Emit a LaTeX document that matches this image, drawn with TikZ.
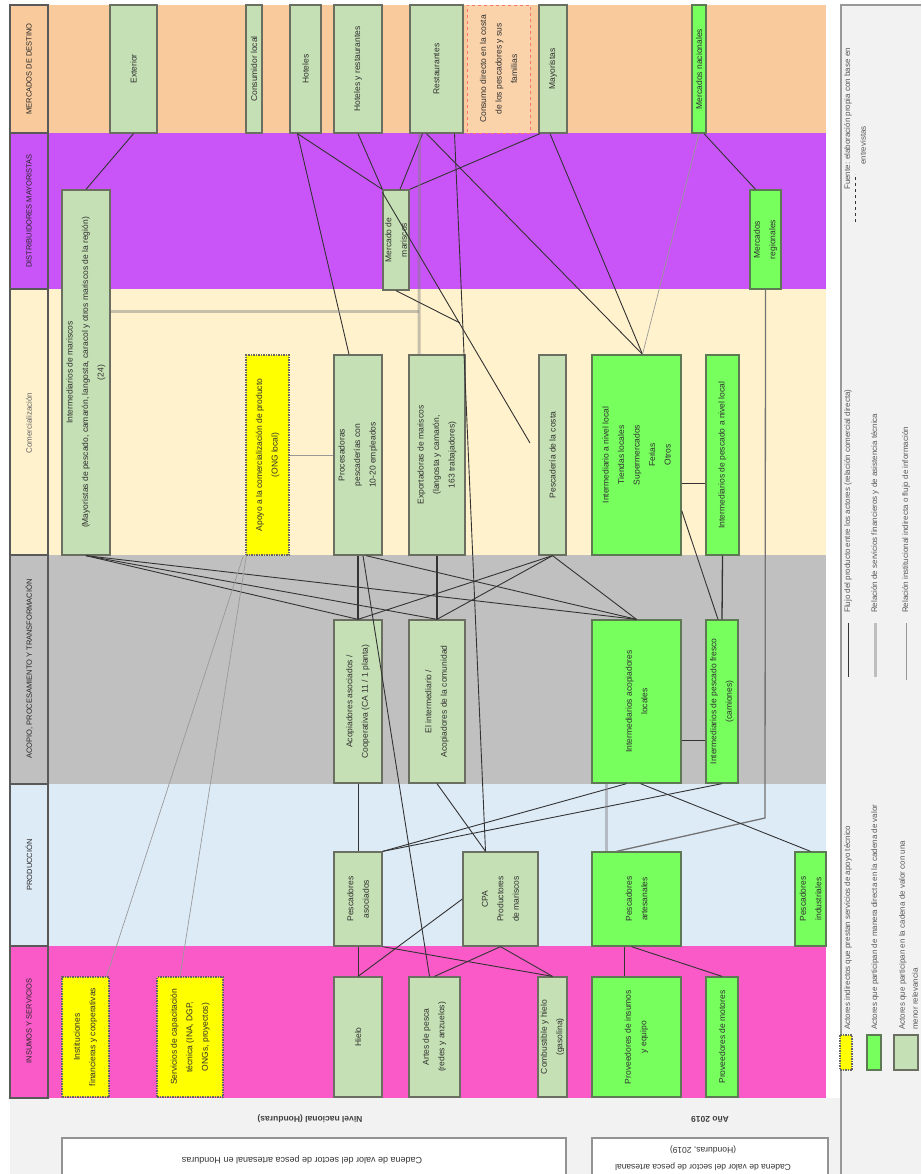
\documentclass[tikz,border=0pt]{standalone}
\usepackage{fontspec}
\setmainfont{Liberation Sans}
\usetikzlibrary{fit,calc}
\definecolor{cO}{HTML}{F9CB9C}
\definecolor{cP}{HTML}{C955F8}
\definecolor{cC}{HTML}{FFF2CC}
\definecolor{cG}{HTML}{C0C0C0}
\definecolor{cB}{HTML}{DDEBF7}
\definecolor{cK}{HTML}{F95AC8}
\definecolor{lgreen}{HTML}{C5E0B4}
\definecolor{bgreen}{HTML}{77FF5E}
\definecolor{yel}{HTML}{FFFF00}
\definecolor{boxc}{HTML}{6A6F62}
\definecolor{bgline}{HTML}{5E7A55}
\definecolor{txtc}{HTML}{303030}
\definecolor{paper}{HTML}{F2F2F2}
\newcommand\actor[7]{\node[#2, fit={(#3,#4) (#5,#6)}] (#1) {};\node[txt] at (#1.center) {#7};}
\begin{document}
\begin{tikzpicture}[x=1pt,y=-1pt,
  box/.style={draw=boxc, line width=1.3pt, inner sep=0pt},
  lg/.style={box, fill=lgreen},
  bg/.style={box, fill=bgreen, draw=bgline},
  yl/.style={box, fill=yel, draw=black!60, dash pattern=on 1.5pt off 1pt},
  txt/.style={rotate=90, align=center, font=\fontsize{8.5}{15.5}\selectfont, inner sep=0pt, text=txtc},
  rlab/.style={rotate=90, font=\fontsize{7.5}{9}\selectfont, inner sep=0pt, text=black!85},
  ltxt/.style={rotate=90, font=\fontsize{8}{13}\selectfont, inner sep=0pt, text=black!65},
  cell/.style={draw=black!65, line width=1.5pt},
  dk/.style={draw=black!80, line width=0.9pt},
  tk/.style={draw=gray, line width=3pt, opacity=0.45},
  lt/.style={draw=black!40, line width=0.7pt},
  md/.style={draw=black!55, line width=1.3pt},
  frame/.style={draw=gray!85, line width=1.5pt, fill=white}
]
\useasboundingbox (0,0) rectangle (921,1174);
\clip (0,0) rectangle (921,1174);
\fill[white] (0,0) rectangle (921,1174);
\fill[paper] (10,1098) rectangle (841,1174);
\fill[paper] (841,5) rectangle (921,1174);
% bands
\fill[cO] (10,5) rectangle (826,133);
\fill[cP] (10,133) rectangle (826,289);
\fill[cC] (10,289) rectangle (826,555);
\fill[cG] (10,555) rectangle (826,784);
\fill[cB] (10,784) rectangle (826,946);
\fill[cK] (10,946) rectangle (826,1098);
\draw[cell] (10,5) rectangle (48,133);
\draw[cell] (10,133) rectangle (48,289);
\draw[cell] (10,289) rectangle (48,555);
\draw[cell] (10,555) rectangle (48,784);
\draw[cell] (10,784) rectangle (48,946);
\draw[cell] (10,946) rectangle (48,1098);
\node[rlab] at (29,69) {MERCADOS DE DESTINO};
\node[rlab] at (29,211) {DISTRIBUIDORES MAYORISTAS};
\node[rlab, text=black!60] at (29,423) {\fontsize{8}{9}\selectfont Comercialización};
\node[rlab] at (29,669) {ACOPIO, PROCESAMIENTO Y TRANSFORMACIÓN};
\node[rlab] at (29,865) {PRODUCCIÓN};
\node[rlab] at (29,1021) {INSUMOS Y SERVICIOS};
% orange row
\actor{O1}{lg}{110}{5}{157}{133}{Exterior}
\actor{O2}{lg}{246}{5}{262}{133}{Consumidor local}
\actor{O3}{lg}{290}{5}{321}{133}{Hoteles}
\actor{O4}{lg}{334}{5}{382}{133}{Hoteles y restaurantes}
\actor{O5}{lg}{410}{5}{463}{133}{Restaurantes}
\node[draw=red!55, dashed, line width=0.8pt, fill=cO!85!white, inner sep=0pt, fit={(467,5) (530,133)}] (O6) {};
\node[txt] at (O6.center) {Consumo directo en la costa\\de los pescadores y sus\\familias};
\actor{O7}{lg}{539}{5}{567}{133}{Mayoristas}
\actor{O8}{bg}{692}{5}{706}{133}{Mercados nacionales}
% purple row
\actor{P1}{lg}{62}{190}{110}{555}{Intermediarios de mariscos\\(Mayoristas de pescado, camarón, langosta, caracol y otros mariscos de la región)\\(24)}
\actor{P2}{lg}{383}{190}{409}{290}{Mercado de\\mariscos}
\actor{P3}{bg}{750}{190}{781}{289}{Mercados\\regionales}
% cream row
\actor{C1}{yl}{246}{355}{289}{555}{Apoyo a la comercialización de producto\\(ONG local)}
\actor{CP}{lg}{334}{355}{382}{555}{Procesadoras\\pescaderías con\\10-20 empleados}
\actor{CE}{lg}{409}{355}{465}{555}{Exportadoras de mariscos\\(langosta y camarón,\\163 trabajadores)}
\actor{C4}{lg}{539}{355}{566}{555}{Pescadería de la costa}
\actor{C5}{bg}{592}{355}{681}{555}{Intermediario a nivel local\\Tiendas locales\\Supermercados\\Ferias\\Otros}
\actor{C6}{bg}{706}{355}{739}{555}{Intermediarios de pescado a nivel local}
% grey row
\actor{G1}{lg}{334}{620}{382}{783}{Acopiadores asociados /\\Cooperativa (CA 11 / 1 planta)}
\actor{G2}{lg}{409}{620}{465}{783}{El intermediario /\\Acopiadores de la comunidad}
\actor{G3}{bg}{592}{620}{681}{783}{Intermediarios acopiadores\\locales}
\actor{G4}{bg}{706}{620}{738}{783}{Intermediarios de pescado fresco\\(camiones)}
% blue row
\actor{B1}{lg}{334}{852}{382}{946}{Pescadores\\asociados}
\actor{B2}{lg}{463}{852}{538}{946}{CPA\\Productores\\de mariscos}
\actor{B3}{bg}{592}{852}{681}{946}{Pescadores\\artesanales}
\actor{B4}{bg}{795}{852}{826}{946}{Pescadores\\industriales}
% pink row
\actor{Y1}{yl}{62}{977}{109}{1097}{Instituciones\\financieras y cooperativas}
\actor{Y2}{yl}{157}{977}{223}{1097}{Servicios de capacitación\\técnica (INA, DGP,\\ONGs, proyectos)}
\actor{K1}{lg}{334}{977}{382}{1097}{Hielo}
\actor{K2}{lg}{409}{977}{460}{1097}{Artes de pesca\\(redes y anzuelos)}
\actor{K3}{lg}{538}{977}{567}{1097}{Combustible y hielo\\(gasolina)}
\actor{K4}{bg}{592}{977}{681}{1097}{Proveedores de insumos\\y equipo}
\actor{K5}{bg}{706}{977}{738}{1097}{Proveedores de motores}
% coordinates
\coordinate (k1) at (765,818);
\coordinate (t1) at (419,311);
\coordinate (fe) at (530,443);
\coordinate (la) at (460,323);
% connectors: markets / distribution
\draw[dk] (O1.south) -- (P1.north);
\draw[dk] ($(O3.south)+(-8,0)$) -- (P2.north west);
\draw[dk] ($(O3.south)+(-8,0)$) -- ($(CP.north)+(-9,0)$);
\draw[dk] (O4.south) -- (P2.north west);
\draw[dk] ($(O5.south)+(-14,0)$) -- ($(P2.north)+(4,0)$);
\draw[dk] ($(O7.south)+(-13,0)$) -- (P2.north east);
\draw[dk] ($(O5.south)+(-10,0)$) -- ($(C5.north)+(6,0)$);
\draw[dk] ($(O7.south)+(-3,0)$) -- ($(C5.north)+(6,0)$);
\draw[lt] (O8.south) -- ($(C5.north)+(6,0)$);
\draw[dk] ($(O8.south)+(5,0)$) -- ($(P3.north)+(-10,0)$);
\draw[md] (P3.south) -- (k1) -- ($(B3.north)+(-20,0)$);
\draw[tk] ($(O5.south)+(-17,0)$) -- ($(CE.north)+(-18,0)$);
\draw[tk] (t1) -- (t1 -| P1.east);
\draw[dk] ($(P2.north west)+(0,3)$) -- (fe);
\draw[dk] (P2.south) -- (la);
\draw[dk] ($(O5.south)+(18,0)$) -- ($(B2.north)+(-15,0)$);
% commercialization / processing
\draw[dk, line width=1.3pt] (CP.south) -- (G1.north);
\draw[dk] ($(CP.south)+(5,0)$) -- ($(K2.north)+(-5,0)$);
\draw[dk, line width=1.3pt] (CE.south) -- (G2.north);
\draw[dk] (C4.south) -- (G1.north);
\draw[dk] (C4.south) -- (G2.north);
\draw[dk] (C4.south) -- (G3.north);
\draw[dk] (P1.south) -- (G1.north);
\draw[dk] (P1.south) -- (G2.north);
\draw[dk] (P1.south) -- (G3.north);
\draw[dk] ($(CP.south)+(8,0)$) -- (G3.north);
\draw[dk] ($(C5.south east)+(0,-45)$) -- ($(G4.north)+(-4,0)$);
\draw[dk] ($(C5.south east)+(0,-72)$) -- ($(C6.south west)+(0,-72)$);
\draw[dk, line width=1.3pt] (C6.south) -- (G4.north);
\draw[dk] ($(G3.south east)+(0,-43)$) -- ($(G4.south west)+(0,-43)$);
% production
\draw[dk] (G1.south) -- (B1.north);
\draw[dk] (G2.south) -- ($(B2.north)+(-15,0)$);
\draw[dk] (B1.north east) -- ($(G3.south)+(-10,0)$);
\draw[dk] (B1.north east) -- (G4.south);
\draw[dk] ($(G3.south)+(4,0)$) -- (B4.north);
\draw[tk] ($(G3.south)+(-30,0)$) -- ($(B3.north)+(-30,0)$);
% inputs
\draw[dk] (K1.north) -- (B1.south);
\draw[dk] (K1.north) -- (B2.west);
\draw[dk] (B2.south) -- (K2.north);
\draw[dk] (B2.south) -- (K3.north);
\draw[dk] (B1.south east) -- (K3.north);
\draw[dk] ($(B3.south)+(-12,0)$) -- ($(K4.north)+(-12,0)$);
\draw[dk] ($(B3.south)+(-5,0)$) -- (K5.north);
\draw[lt] ($(Y1.north east)+(-3,0)$) -- ($(C1.south west)+(-2,0)$);
\draw[lt] ($(Y2.north)+(-10,0)$) -- ($(C1.south west)+(1,0)$);
\draw[lt] (C1.east) -- (CP.west);
% bottom titles
\node[rotate=180, font=\bfseries\fontsize{8.5}{10}\selectfont, text=black!75] at (310,1119) {Nivel nacional (Honduras)};
\node[rotate=180, font=\bfseries\fontsize{8.5}{10}\selectfont, text=black!75] at (710,1120) {Año 2019};
\draw[frame] (62,1138) rectangle (566,1200);
\node[rotate=180, font=\fontsize{9}{11}\selectfont, text=black!80] at (302,1160) {Cadena de valor del sector de pesca artesanal en Honduras};
\draw[frame] (592,1138) rectangle (828,1200);
\node[rotate=180, align=center, font=\fontsize{8.5}{17}\selectfont, text=black!80] at (703,1158) {Cadena de valor del sector de pesca artesanal\\(Honduras, 2019)};
% legend
\draw[gray!80, line width=1.5pt] (841,1174) -- (841,5) -- (921,5);
\node[ltxt, anchor=west] at (848,190) {Fuente: elaboración propia con base en};
\node[ltxt, anchor=west] at (863,165) {entrevistas};
\draw[dk, dashed] (855,222) -- (855,174);
\node[ltxt, anchor=west] at (848,613) {Flujo del producto entre los actores (relación comercial directa)};
\node[ltxt, anchor=west] at (875,613) {Relación de servicios financieros y de asistencia técnica};
\node[ltxt, anchor=west] at (906,613) {Relación institucional indirecta o flujo de información};
\draw[dk] (848,623) -- (848,677);
\draw[tk] (875,623) -- (875,677);
\draw[lt] (906,623) -- (906,680);
\node[ltxt, anchor=west] at (848,1030) {Actores indirectos que prestan servicios de apoyo técnico};
\node[ltxt, anchor=west] at (875,1030) {Actores que participan de manera directa en la cadena de valor};
\node[ltxt, anchor=west, align=left] at (908.5,1030) {Actores que participan en la cadena de valor con una\\menor relevancia};
\draw[yl] (840,1035) rectangle (852,1070);
\draw[bg] (867,1035) rectangle (881,1070);
\draw[lg] (894,1035) rectangle (918,1070);
\end{tikzpicture}
\end{document}
